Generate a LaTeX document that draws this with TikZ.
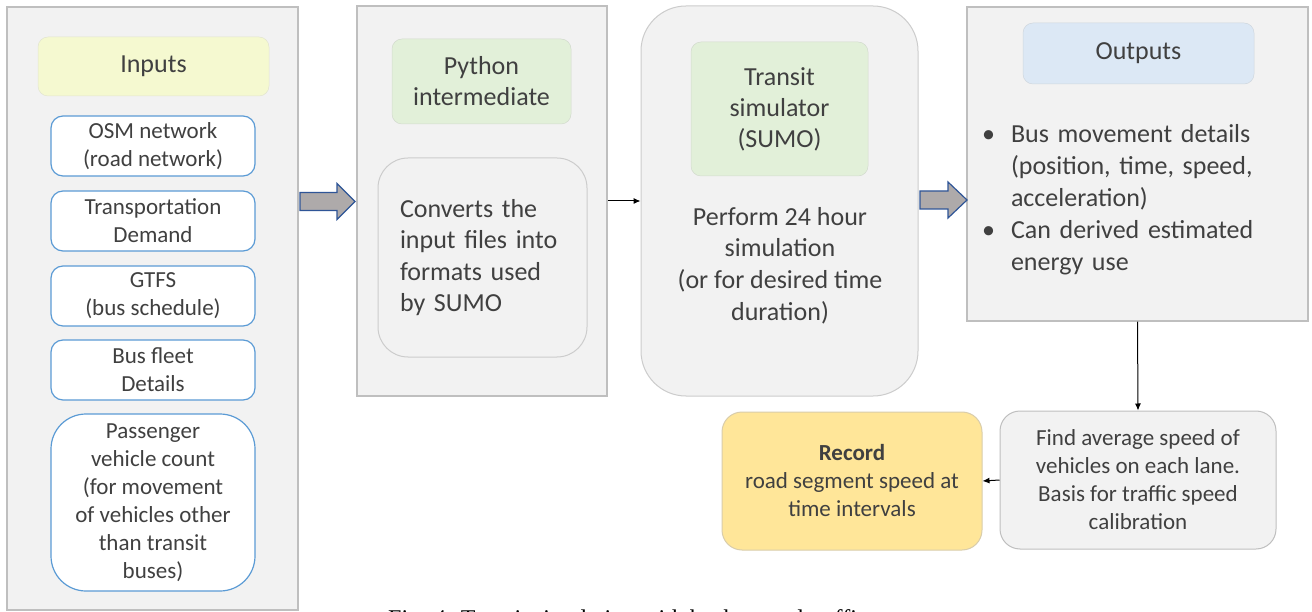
\documentclass[tikz,border=0pt]{standalone}
\usepackage{fontspec}
\setmainfont{Carlito}
\newfontfamily\capfont{Liberation Serif}
\usetikzlibrary{arrows.meta}
\definecolor{txtgray}{HTML}{404040}
\definecolor{panelfill}{HTML}{F2F2F2}
\definecolor{panelline}{HTML}{BFBFBF}
\definecolor{inblue}{HTML}{5B9BD5}
\definecolor{lblyellow}{HTML}{F5F9D0}
\definecolor{lblgreen}{HTML}{E2F0D9}
\definecolor{lblblue}{HTML}{DCE8F5}
\definecolor{recyellow}{HTML}{FFE699}
\definecolor{arrfill}{HTML}{AEAAAA}
\definecolor{arrline}{HTML}{2F5597}
\newcommand{\outitem}[1]{\par\hangindent=29pt\hangafter=1\noindent\makebox[29pt][l]{\textbullet}#1\par}
\newcommand{\blockarrow}[4]{% start x, tip x, y, head start x
  \draw[blockarr] (#1,#3-9) -- (#4,#3-9) -- (#4,#3-18) -- (#2,#3) -- (#4,#3+18) -- (#4,#3+9) -- (#1,#3+9) -- cycle;}
\begin{document}
\begin{tikzpicture}[x=1pt,y=-1pt,
    panel/.style={draw=panelline, line width=1.5pt, fill=panelfill, inner sep=0pt},
    lbl/.style={rounded corners=10pt, line width=0.5pt, inner sep=0pt, align=center, text=txtgray,
      font=\fontsize{26}{31}\selectfont},
    inbox/.style={draw=inblue, line width=1.2pt, fill=white, rounded corners=12pt, align=center,
      minimum width=204pt, minimum height=60pt, inner sep=0pt, text=txtgray, font=\fontsize{23}{28}\selectfont},
    lowbox/.style={line width=1pt, rounded corners=20pt, align=center, minimum width=260pt,
      minimum height=138pt, inner sep=0pt, text=txtgray, font=\fontsize{23}{28}\selectfont},
    thinarr/.style={-{Latex[length=7pt,width=6pt]}, line width=1pt, black},
    blockarr/.style={fill=arrfill, draw=arrline, line width=1.2pt, line join=miter}]
  \clip (0,0) rectangle (1312,612);
  \fill[white] (0,0) rectangle (1312,612);
  % panels
  \node[panel, minimum width=291pt, minimum height=603pt] (inpanel) at (152.5,308.5) {};
  \node[panel, minimum width=250pt, minimum height=390pt] (pypanel) at (482,201) {};
  \node[panel, line width=1pt, draw=panelline!80, rounded corners=45pt, minimum width=277pt,
    minimum height=390pt] (simpanel) at (779.5,201) {};
  \node[panel, minimum width=341pt, minimum height=314pt] (outpanel) at (1137.5,164) {};
  % inputs
  \node[lbl, fill=lblyellow, draw=lblyellow!85!black!60, minimum width=231pt, minimum height=59pt]
    (inlbl) at (153.5,66.5) {Inputs};
  \foreach \name/\y/\txt in {osm/146/{OSM network\\(road network)},
      demand/221/{Transportation\\Demand}, gtfs/296/{GTFS\\(bus schedule)},
      fleet/370/{Bus fleet\\Details}}
    \node[inbox] (\name) at (153,\y) {\txt};
  \node[inbox, rounded corners=35pt, minimum height=177pt] (pass) at (153,502.5)
    {Passenger\\vehicle count\\(for movement\\of vehicles other\\than transit\\buses)};
  % python
  \node[lbl, fill=lblgreen, draw=lblgreen!85!black!70, minimum width=179pt, minimum height=85pt]
    (pylbl) at (481.5,81.5) {Python\\intermediate};
  \node[lowbox, draw=panelline!80, fill=panelfill, rounded corners=30pt, minimum width=209pt,
    minimum height=199pt, align=left, text width=165pt, inner xsep=22pt,
    font=\fontsize{26}{31.5}\selectfont] (conv) at (482.5,257.5)
    {Converts the\\input files into\\formats used\\by SUMO};
  % simulator
  \node[lbl, fill=lblgreen, draw=lblgreen!85!black!70, minimum width=177pt, minimum height=134pt]
    (simlbl) at (779.5,109) {Transit\\simulator\\(SUMO)};
  \node[align=center, text=txtgray, font=\fontsize{26}{31.7}\selectfont] (perform) at (780,265.5)
    {Perform 24 hour\\simulation\\(or for desired time\\duration)};
  % outputs
  \node[lbl, fill=lblblue, draw=lblblue!85!black!70, minimum width=231pt, minimum height=61pt]
    (outlbl) at (1138.5,53.5) {Outputs};
  \node[text width=305pt, inner sep=0pt, text=txtgray, font=\fontsize{26}{32}\selectfont]
    (outtext) at (1134.5,193)
    {\raggedright
     \outitem{Bus movement details\newline (position, time, speed,\newline acceleration)}
     \outitem{Can derived estimated\newline energy use}};
  % lower row
  \node[lowbox, draw=panelline, fill=panelfill, minimum width=276pt] (find) at (1138,480)
    {Find average speed of\\vehicles on each lane.\\Basis for traffic speed\\calibration};
  \node[lowbox, draw=recyellow!75!black!60, fill=recyellow] (record) at (852,481)
    {\textbf{Record}\\road segment speed at\\time intervals};
  % arrows
  \blockarrow{300}{355}{201.5}{337}
  \blockarrow{920}{967}{200}{948}
  \draw[thinarr] (pypanel.east) -- (simpanel.west);
  \draw[thinarr] (outpanel.south) -- (find.north);
  \draw[thinarr] (find.west) -- (record.east);
  % caption, cut by the page edge
  \node[anchor=base west, inner sep=0pt, font=\capfont\fontsize{24}{28}\selectfont] (cap) at (388,626)
    {Fig. 4: Transit simulation with background traffic};
\end{tikzpicture}
\end{document}
